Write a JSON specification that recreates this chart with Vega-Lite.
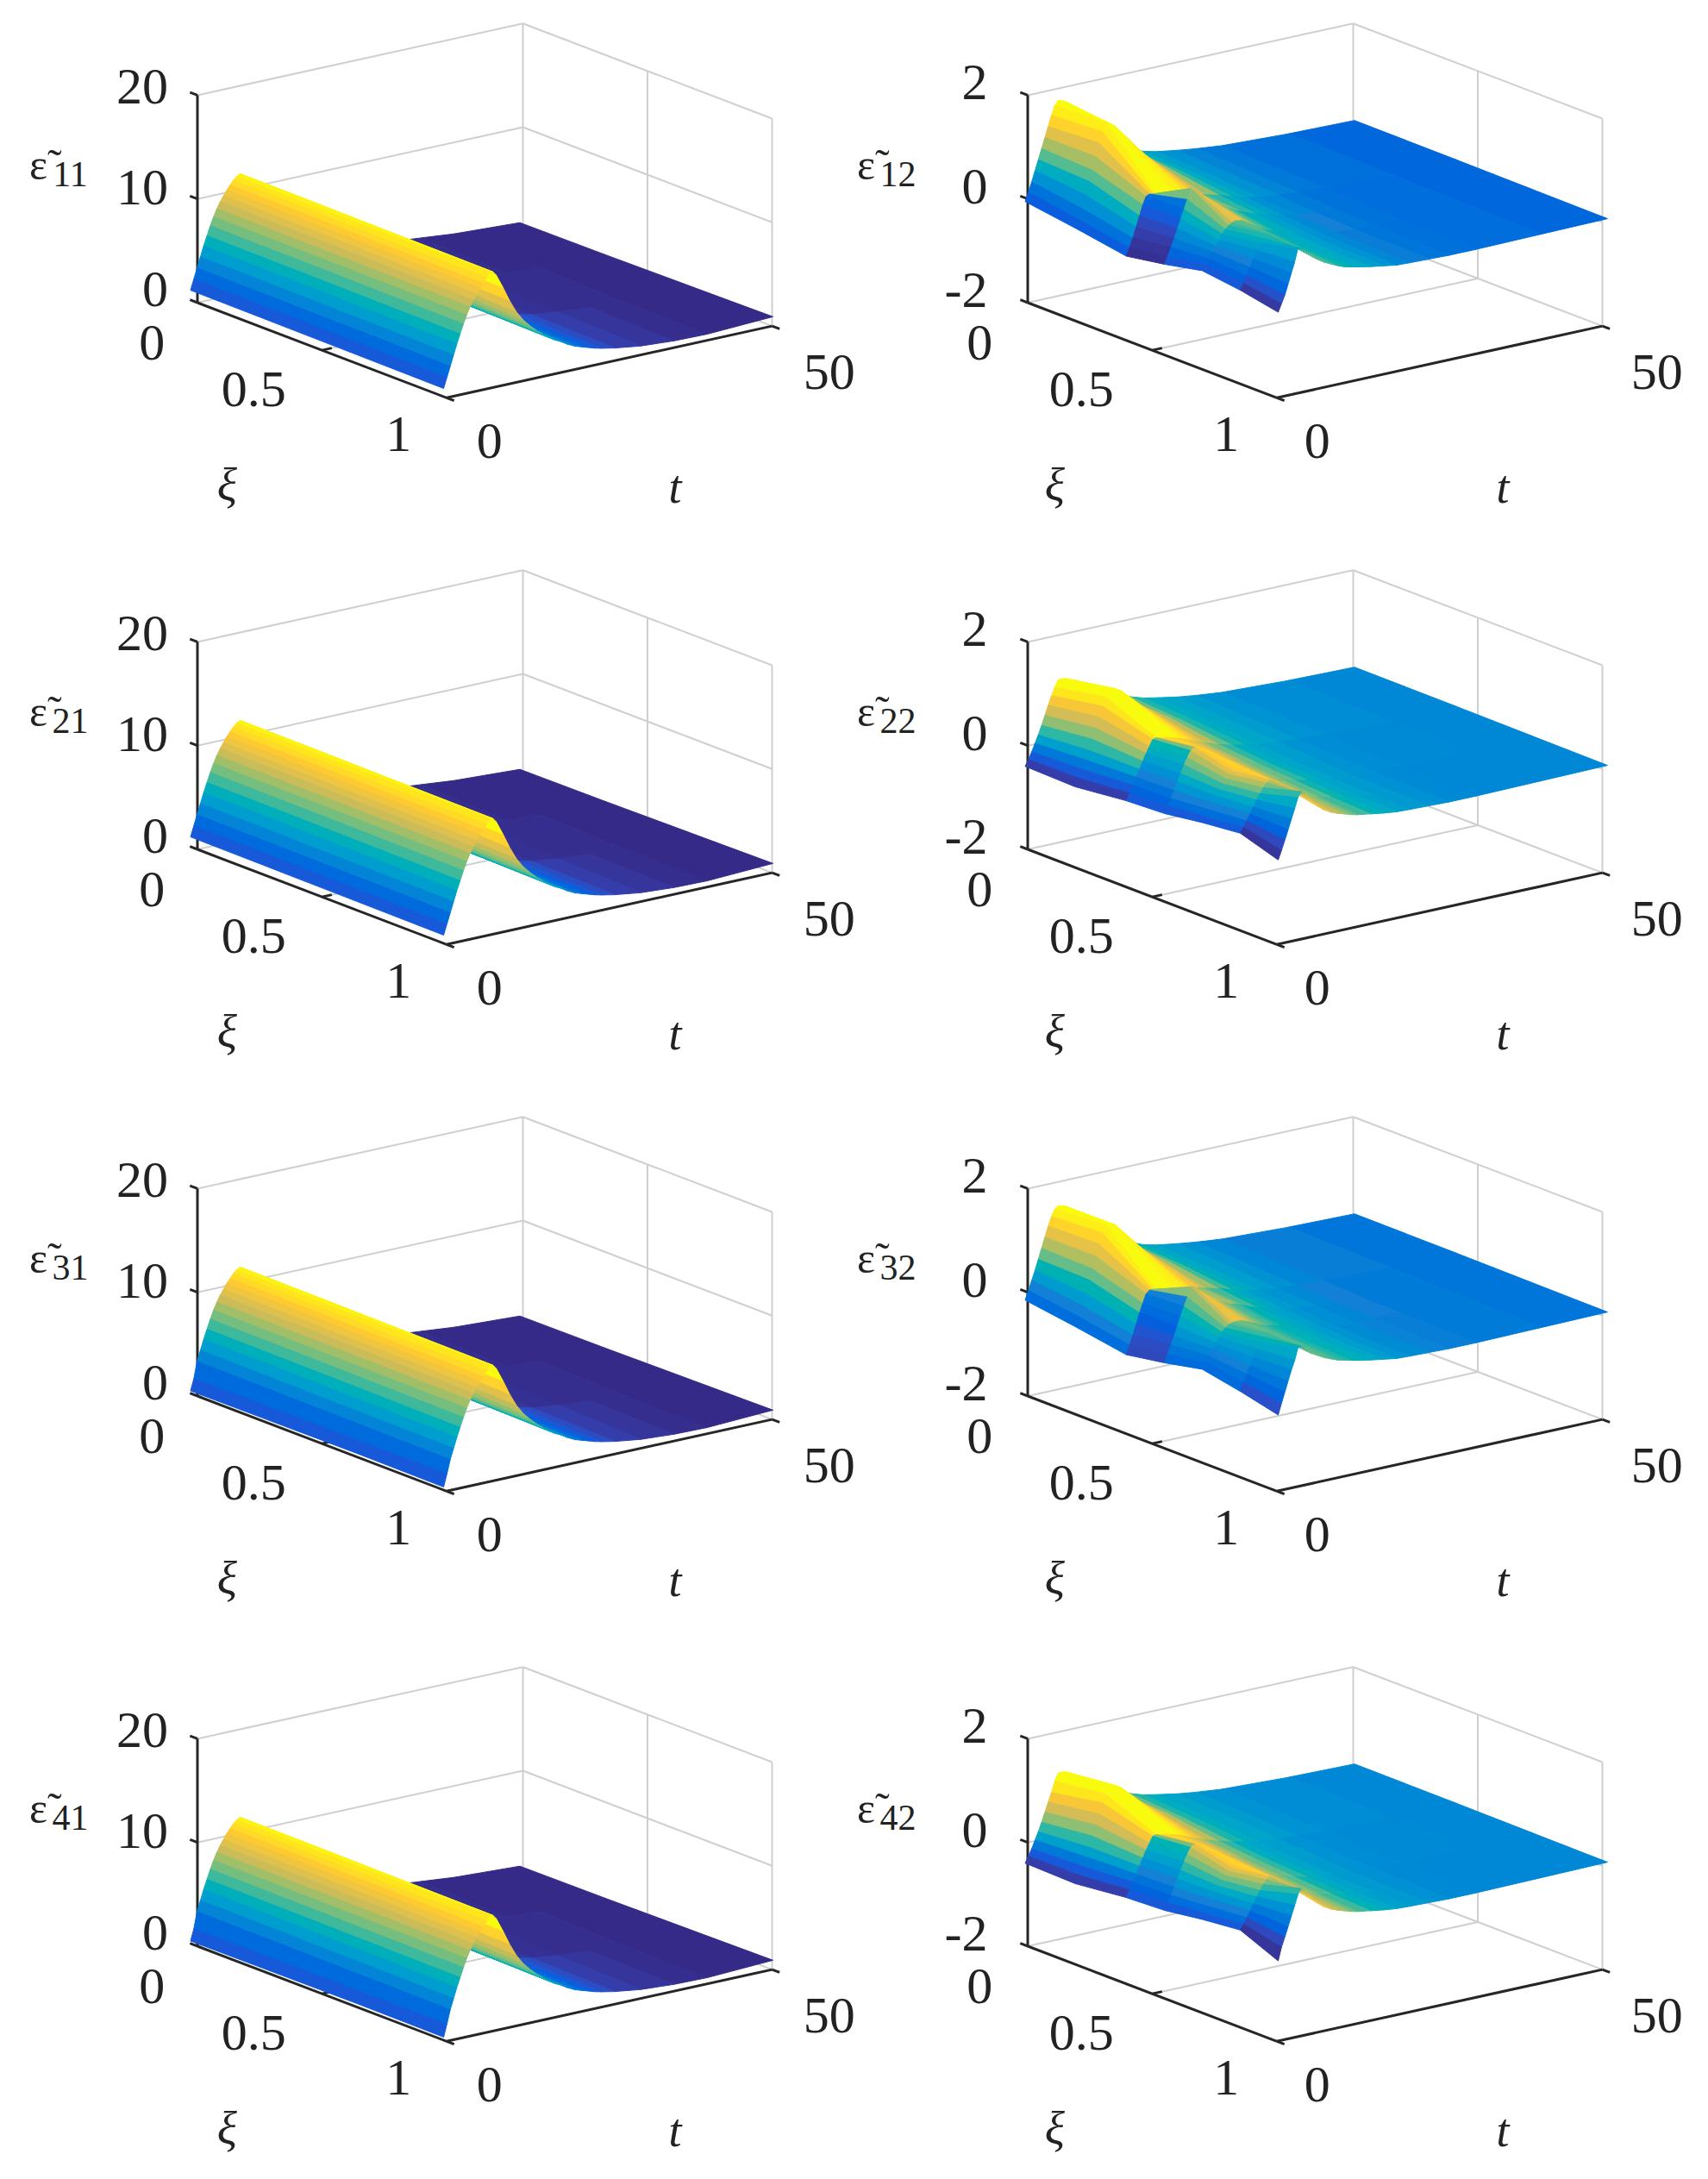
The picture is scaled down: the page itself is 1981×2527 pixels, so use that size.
{"$schema":"https://vega.github.io/schema/vega-lite/v6.json","width":1981,"height":2527,"padding":0,"autosize":{"type":"none"},"background":"white","config":{"view":{"stroke":null},"text":{"font":"Liberation Serif","color":"#222222"}},
"datasets":{"L":[
{"t":50,"xi":0,"z":0.8,"k":0},{"t":50,"xi":0.34,"z":0.8,"k":0},{"t":50,"xi":0.67,"z":0.85,"k":0},{"t":50,"xi":1,"z":0.9},
{"t":40,"xi":0,"z":1.1,"k":0},{"t":40,"xi":0.34,"z":0.9,"k":0},{"t":40,"xi":0.67,"z":0.7,"k":0},{"t":40,"xi":1,"z":0.6},
{"t":35,"xi":0,"z":1.4,"k":0},{"t":35,"xi":0.34,"z":1.1,"k":0.01},{"t":35,"xi":0.67,"z":0.85,"k":0.01},{"t":35,"xi":1,"z":0.65},
{"t":30,"xi":0,"z":1.7,"k":0.01},{"t":30,"xi":0.34,"z":1.4,"k":0.01},{"t":30,"xi":0.67,"z":1.1,"k":0.03},{"t":30,"xi":1,"z":0.85},
{"t":26,"xi":0,"z":2.1,"k":0.01},{"t":26,"xi":0.34,"z":1.7,"k":0.02},{"t":26,"xi":0.67,"z":1.4,"k":0.05},{"t":26,"xi":1,"z":1.2},
{"t":24,"xi":0,"z":2.4,"k":0.02},{"t":24,"xi":0.34,"z":2,"k":0.03},{"t":24,"xi":0.67,"z":1.7,"k":0.09},{"t":24,"xi":1,"z":1.45},
{"t":23,"xi":0,"z":2.5,"k":0.02},{"t":23,"xi":0.34,"z":2.1,"k":0.04},{"t":23,"xi":0.67,"z":1.8,"k":0.11},{"t":23,"xi":1,"z":1.6},
{"t":22,"xi":0,"z":2.6,"k":0.03},{"t":22,"xi":0.34,"z":2.2,"k":0.05},{"t":22,"xi":0.67,"z":2,"k":0.13},{"t":22,"xi":1,"z":1.8},
{"t":21,"xi":0,"z":2.8,"k":0.03},{"t":21,"xi":0.34,"z":2.4,"k":0.06},{"t":21,"xi":0.67,"z":2.2,"k":0.16},{"t":21,"xi":1,"z":2},
{"t":20,"xi":0,"z":3,"k":0.04},{"t":20,"xi":0.34,"z":2.6,"k":0.08},{"t":20,"xi":0.67,"z":2.4,"k":0.2},{"t":20,"xi":1,"z":2.2},
{"t":19,"xi":0,"z":3.2,"k":0.05},{"t":19,"xi":0.34,"z":2.9,"k":0.1},{"t":19,"xi":0.67,"z":2.7,"k":0.25},{"t":19,"xi":1,"z":2.5},
{"t":18,"xi":0,"z":3.5,"k":0.06},{"t":18,"xi":0.34,"z":3.2,"k":0.13},{"t":18,"xi":0.67,"z":3,"k":0.3},{"t":18,"xi":1,"z":2.9},
{"t":17,"xi":0,"z":3.9,"k":0.08},{"t":17,"xi":0.34,"z":3.6,"k":0.17},{"t":17,"xi":0.67,"z":3.4,"k":0.35},{"t":17,"xi":1,"z":3.2},
{"t":16,"xi":0,"z":4.3,"k":0.11},{"t":16,"xi":0.34,"z":4,"k":0.22},{"t":16,"xi":0.67,"z":3.8,"k":0.4},{"t":16,"xi":1,"z":3.6},
{"t":15,"xi":0,"z":4.8,"k":0.15},{"t":15,"xi":0.34,"z":4.5,"k":0.27},{"t":15,"xi":0.67,"z":4.3,"k":0.46},{"t":15,"xi":1,"z":4.1},
{"t":14,"xi":0,"z":5.3,"k":0.2},{"t":14,"xi":0.34,"z":5,"k":0.34},{"t":14,"xi":0.67,"z":4.8,"k":0.52},{"t":14,"xi":1,"z":4.6},
{"t":13,"xi":0,"z":6,"k":0.28},{"t":13,"xi":0.34,"z":5.7,"k":0.42},{"t":13,"xi":0.67,"z":5.4,"k":0.58},{"t":13,"xi":1,"z":5.2},
{"t":12,"xi":0,"z":6.8,"k":0.38},{"t":12,"xi":0.34,"z":6.5,"k":0.5},{"t":12,"xi":0.67,"z":6.2,"k":0.65},{"t":12,"xi":1,"z":5.9},
{"t":11,"xi":0,"z":7.7,"k":0.5},{"t":11,"xi":0.34,"z":7.4,"k":0.6},{"t":11,"xi":0.67,"z":7.1,"k":0.72},{"t":11,"xi":1,"z":6.8},
{"t":10,"xi":0,"z":8.8,"k":0.65},{"t":10,"xi":0.34,"z":8.5,"k":0.72},{"t":10,"xi":0.67,"z":8.2,"k":0.8},{"t":10,"xi":1,"z":8},
{"t":9,"xi":0,"z":10,"k":0.85},{"t":9,"xi":0.34,"z":9.8,"k":0.88},{"t":9,"xi":0.67,"z":9.6,"k":0.9},{"t":9,"xi":1,"z":9.4},
{"t":8,"xi":0,"z":11.2,"k":1},{"t":8,"xi":0.34,"z":11.1,"k":1},{"t":8,"xi":0.67,"z":10.95,"k":1},{"t":8,"xi":1,"z":10.7},
{"t":7.5,"xi":0,"z":11.4,"k":1},{"t":7.5,"xi":0.34,"z":11.3,"k":1},{"t":7.5,"xi":0.67,"z":11.2,"k":1},{"t":7.5,"xi":1,"z":11.1},
{"t":7,"xi":0,"z":11.2,"k":0.98},{"t":7,"xi":0.34,"z":11.1,"k":0.98},{"t":7,"xi":0.67,"z":11.1,"k":0.98},{"t":7,"xi":1,"z":11.2},
{"t":6.5,"xi":0,"z":10.9,"k":0.95},{"t":6.5,"xi":0.34,"z":10.8,"k":0.95},{"t":6.5,"xi":0.67,"z":10.7,"k":0.95},{"t":6.5,"xi":1,"z":10.7},
{"t":6,"xi":0,"z":10.5,"k":0.92},{"t":6,"xi":0.34,"z":10.4,"k":0.92},{"t":6,"xi":0.67,"z":10.3,"k":0.92},{"t":6,"xi":1,"z":10.2},
{"t":5.5,"xi":0,"z":10.1,"k":0.88},{"t":5.5,"xi":0.34,"z":10,"k":0.88},{"t":5.5,"xi":0.67,"z":9.9,"k":0.88},{"t":5.5,"xi":1,"z":9.8},
{"t":5,"xi":0,"z":9.6,"k":0.84},{"t":5,"xi":0.34,"z":9.5,"k":0.84},{"t":5,"xi":0.67,"z":9.4,"k":0.84},{"t":5,"xi":1,"z":9.3},
{"t":4.5,"xi":0,"z":9.1,"k":0.79},{"t":4.5,"xi":0.34,"z":9,"k":0.79},{"t":4.5,"xi":0.67,"z":8.9,"k":0.79},{"t":4.5,"xi":1,"z":8.8},
{"t":4,"xi":0,"z":8.5,"k":0.74},{"t":4,"xi":0.34,"z":8.4,"k":0.74},{"t":4,"xi":0.67,"z":8.3,"k":0.74},{"t":4,"xi":1,"z":8.2},
{"t":3.5,"xi":0,"z":7.8,"k":0.67},{"t":3.5,"xi":0.34,"z":7.7,"k":0.67},{"t":3.5,"xi":0.67,"z":7.6,"k":0.67},{"t":3.5,"xi":1,"z":7.5},
{"t":3,"xi":0,"z":7,"k":0.6},{"t":3,"xi":0.34,"z":6.9,"k":0.6},{"t":3,"xi":0.67,"z":6.8,"k":0.6},{"t":3,"xi":1,"z":6.7},
{"t":2.5,"xi":0,"z":6.1,"k":0.52},{"t":2.5,"xi":0.34,"z":6,"k":0.52},{"t":2.5,"xi":0.67,"z":5.9,"k":0.52},{"t":2.5,"xi":1,"z":5.8},
{"t":2,"xi":0,"z":5.2,"k":0.44},{"t":2,"xi":0.34,"z":5.1,"k":0.44},{"t":2,"xi":0.67,"z":5,"k":0.44},{"t":2,"xi":1,"z":4.9},
{"t":1.5,"xi":0,"z":4.2,"k":0.35},{"t":1.5,"xi":0.34,"z":4.1,"k":0.35},{"t":1.5,"xi":0.67,"z":4,"k":0.35},{"t":1.5,"xi":1,"z":3.9},
{"t":1,"xi":0,"z":3.2,"k":0.26},{"t":1,"xi":0.34,"z":3.1,"k":0.26},{"t":1,"xi":0.67,"z":3,"k":0.26},{"t":1,"xi":1,"z":2.9},
{"t":0.5,"xi":0,"z":2.2,"q":1.6,"k":0.17},{"t":0.5,"xi":0.34,"z":2.1,"q":1.6,"k":0.17},{"t":0.5,"xi":0.67,"z":2,"q":1.6,"k":0.17},{"t":0.5,"xi":1,"z":1.9,"q":1.6},
{"t":0,"xi":0,"z":1.2,"q":0.5,"k":0.12},{"t":0,"xi":0.34,"z":1.1,"q":0.5,"k":0.12},{"t":0,"xi":0.67,"z":1,"q":0.5,"k":0.12},{"t":0,"xi":1,"z":0.9,"q":0.4}
],"R":[
{"t":50,"xi":0,"a":0.13,"k":0.16,"m":0.27},{"t":50,"xi":0.2,"a":0.12,"k":0.16,"m":0.27},{"t":50,"xi":0.4,"a":0.11,"k":0.16,"m":0.27},{"t":50,"xi":0.55,"a":0.1,"k":0.16,"m":0.27},{"t":50,"xi":0.7,"a":0.09,"k":0.16,"m":0.27},{"t":50,"xi":0.85,"a":0.08,"k":0.16,"m":0.27},{"t":50,"xi":1,"a":0.07},
{"t":40,"xi":0,"a":0.15,"k":0.16,"m":0.27},{"t":40,"xi":0.2,"a":0.13,"k":0.16,"m":0.27},{"t":40,"xi":0.4,"a":0.11,"k":0.16,"m":0.27},{"t":40,"xi":0.55,"a":0.09,"k":0.16,"m":0.27},{"t":40,"xi":0.7,"a":0.08,"k":0.16,"m":0.27},{"t":40,"xi":0.85,"a":0.07,"k":0.16,"m":0.27},{"t":40,"xi":1,"a":0.05},
{"t":30,"xi":0,"a":0.2,"k":0.19,"m":0.29},{"t":30,"xi":0.2,"a":0.16,"k":0.19,"m":0.29},{"t":30,"xi":0.4,"a":0.12,"k":0.18,"m":0.28},{"t":30,"xi":0.55,"a":0.08,"k":0.18,"m":0.28},{"t":30,"xi":0.7,"a":0.06,"k":0.18,"m":0.27},{"t":30,"xi":0.85,"a":0.05,"k":0.18,"m":0.27},{"t":30,"xi":1,"a":0.03},
{"t":26,"xi":0,"a":0.25,"k":0.22,"m":0.31},{"t":26,"xi":0.2,"a":0.2,"k":0.22,"m":0.31},{"t":26,"xi":0.4,"a":0.14,"k":0.2,"m":0.29},{"t":26,"xi":0.55,"a":0.09,"k":0.2,"m":0.29},{"t":26,"xi":0.7,"a":0.06,"k":0.19,"m":0.28},{"t":26,"xi":0.85,"a":0.05,"k":0.19,"m":0.28},{"t":26,"xi":1,"a":0.03},
{"t":23,"xi":0,"a":0.3,"k":0.26,"m":0.34},{"t":23,"xi":0.2,"a":0.24,"k":0.26,"m":0.34},{"t":23,"xi":0.4,"a":0.17,"k":0.23,"m":0.31},{"t":23,"xi":0.55,"a":0.11,"k":0.22,"m":0.31},{"t":23,"xi":0.7,"a":0.07,"k":0.21,"m":0.3},{"t":23,"xi":0.85,"a":0.05,"k":0.21,"m":0.3},{"t":23,"xi":1,"a":0.04},
{"t":20,"xi":0,"a":0.36,"b":0.37,"k":0.31,"m":0.38},{"t":20,"xi":0.2,"a":0.3,"k":0.31,"m":0.38},{"t":20,"xi":0.4,"a":0.22,"b":0.2,"k":0.27,"m":0.35},{"t":20,"xi":0.55,"a":0.15,"b":0.14,"k":0.25,"m":0.34},{"t":20,"xi":0.7,"a":0.09,"k":0.24,"m":0.33},{"t":20,"xi":0.85,"a":0.06,"k":0.24,"m":0.33},{"t":20,"xi":1,"a":0.05},
{"t":18,"xi":0,"a":0.42,"k":0.36,"m":0.42},{"t":18,"xi":0.2,"a":0.36,"b":0.35,"k":0.36,"m":0.42},{"t":18,"xi":0.4,"a":0.27,"b":0.25,"k":0.3,"m":0.38},{"t":18,"xi":0.55,"a":0.19,"b":0.17,"k":0.28,"m":0.38},{"t":18,"xi":0.7,"a":0.12,"k":0.27,"m":0.37},{"t":18,"xi":0.85,"a":0.08,"k":0.27,"m":0.36},{"t":18,"xi":1,"a":0.06},
{"t":16,"xi":0,"a":0.52,"b":0.5,"k":0.42,"m":0.48},{"t":16,"xi":0.2,"a":0.46,"b":0.42,"k":0.42,"m":0.48},{"t":16,"xi":0.4,"a":0.34,"b":0.3,"k":0.36,"m":0.42},{"t":16,"xi":0.55,"a":0.25,"b":0.22,"k":0.32,"m":0.43},{"t":16,"xi":0.7,"a":0.17,"k":0.31,"m":0.41},{"t":16,"xi":0.85,"a":0.12,"k":0.31,"m":0.4},{"t":16,"xi":1,"a":0.1,"b":0.09},
{"t":14,"xi":0,"a":0.66,"b":0.6,"k":0.5,"m":0.58},{"t":14,"xi":0.2,"a":0.58,"b":0.53,"k":0.5,"m":0.58},{"t":14,"xi":0.4,"a":0.42,"b":0.37,"k":0.42,"m":0.5},{"t":14,"xi":0.55,"a":0.33,"b":0.29,"k":0.36,"m":0.5},{"t":14,"xi":0.7,"a":0.23,"k":0.35,"m":0.47},{"t":14,"xi":0.85,"a":0.16,"b":0.17,"k":0.35,"m":0.45},{"t":14,"xi":1,"a":0.14,"b":0.13},
{"t":12,"xi":0,"a":0.85,"b":0.7,"c":0.8,"k":0.65,"m":0.72},{"t":12,"xi":0.2,"a":0.76,"b":0.67,"c":0.72,"k":0.65,"m":0.72},{"t":12,"xi":0.4,"a":0.48,"b":0.45,"k":0.5,"m":0.6},{"t":12,"xi":0.55,"a":0.42,"b":0.37,"k":0.42,"m":0.58},{"t":12,"xi":0.7,"a":0.3,"k":0.4,"m":0.55},{"t":12,"xi":0.85,"a":0.22,"b":0.23,"k":0.4,"m":0.52},{"t":12,"xi":1,"a":0.19,"b":0.17},
{"t":11,"xi":0,"a":0.97,"b":0.76,"c":0.9,"k":0.75,"m":0.8},{"t":11,"xi":0.2,"a":0.87,"b":0.76,"c":0.82,"k":0.75,"m":0.8},{"t":11,"xi":0.4,"a":0.52,"b":0.5,"k":0.57,"m":0.68},{"t":11,"xi":0.55,"a":0.48,"b":0.42,"k":0.45,"m":0.64},{"t":11,"xi":0.7,"a":0.34,"b":0.34,"k":0.42,"m":0.62},{"t":11,"xi":0.85,"a":0.26,"b":0.27,"k":0.42,"m":0.58},{"t":11,"xi":1,"a":0.22,"b":0.2},
{"t":10,"xi":0,"a":1.1,"b":0.84,"c":1.02,"k":0.85,"m":0.87},{"t":10,"xi":0.2,"a":1,"b":0.86,"c":0.94,"k":0.85,"m":0.87},{"t":10,"xi":0.4,"a":0.56,"b":0.55,"c":0.52,"k":0.65,"m":0.75},{"t":10,"xi":0.55,"a":0.55,"b":0.48,"c":0.5,"k":0.5,"m":0.7},{"t":10,"xi":0.7,"a":0.4,"b":0.4,"c":0.36,"k":0.44,"m":0.7},{"t":10,"xi":0.85,"a":0.3,"b":0.32,"c":0.28,"k":0.45,"m":0.65},{"t":10,"xi":1,"a":0.25,"b":0.24},
{"t":9,"xi":0,"a":1.28,"b":0.92,"c":1.17,"k":0.92,"m":0.93},{"t":9,"xi":0.2,"a":1.15,"b":0.98,"c":1.08,"k":0.92,"m":0.93},{"t":9,"xi":0.4,"a":0.6,"b":0.6,"c":0.56,"k":0.72,"m":0.8},{"t":9,"xi":0.55,"a":0.62,"b":0.54,"c":0.57,"k":0.55,"m":0.75},{"t":9,"xi":0.7,"a":0.46,"b":0.47,"c":0.4,"k":0.47,"m":0.75},{"t":9,"xi":0.85,"a":0.37,"b":0.38,"c":0.34,"k":0.47,"m":0.7},{"t":9,"xi":1,"a":0.3,"b":0.28,"c":0.28},
{"t":8,"xi":0,"a":1.45,"b":1,"c":1.3,"k":0.97,"m":0.97},{"t":8,"xi":0.2,"a":1.3,"b":1.1,"c":1.22,"k":0.97,"m":0.97},{"t":8,"xi":0.4,"a":0.62,"b":0.65,"c":0.58,"k":0.8,"m":0.84},{"t":8,"xi":0.55,"a":0.7,"b":0.62,"c":0.64,"k":0.62,"m":0.8},{"t":8,"xi":0.7,"a":0.54,"b":0.55,"c":0.46,"k":0.5,"m":0.8},{"t":8,"xi":0.85,"a":0.44,"b":0.46,"c":0.4,"k":0.5,"m":0.75},{"t":8,"xi":1,"a":0.36,"b":0.33,"c":0.33},
{"t":7,"xi":0,"a":1.6,"b":1.08,"c":1.42,"k":0.98,"m":1},{"t":7,"xi":0.2,"a":1.45,"b":1.22,"c":1.36,"k":0.98,"m":1},{"t":7,"xi":0.4,"a":0.64,"b":0.69,"c":0.6,"k":0.85,"m":0.88},{"t":7,"xi":0.55,"a":0.8,"b":0.7,"c":0.72,"k":0.7,"m":0.84},{"t":7,"xi":0.7,"a":0.62,"b":0.63,"c":0.52,"k":0.52,"m":0.84},{"t":7,"xi":0.85,"a":0.52,"b":0.56,"c":0.45,"k":0.52,"m":0.8},{"t":7,"xi":1,"a":0.42,"b":0.4,"c":0.38},
{"t":6,"xi":0,"a":1.72,"b":1.13,"c":1.5,"d":1.2,"k":1,"m":1},{"t":6,"xi":0.2,"a":1.6,"b":1.3,"c":1.5,"k":1,"m":1},{"t":6,"xi":0.4,"a":0.66,"b":0.72,"c":0.62,"k":0.9,"m":0.92},{"t":6,"xi":0.55,"a":0.9,"b":0.78,"c":0.82,"k":0.8,"m":0.88},{"t":6,"xi":0.7,"a":0.7,"b":0.7,"c":0.57,"k":0.55,"m":0.88},{"t":6,"xi":0.85,"a":0.62,"b":0.66,"c":0.52,"k":0.55,"m":0.85},{"t":6,"xi":1,"a":0.5,"b":0.5,"c":0.45},
{"t":5,"xi":0,"a":1.76,"b":1.13,"c":1.53,"d":1.2,"k":1,"m":1},{"t":5,"xi":0.2,"a":1.7,"b":1.3,"c":1.57,"k":1,"m":1},{"t":5,"xi":0.4,"a":0.68,"b":0.74,"c":0.64,"k":0.9,"m":0.9},{"t":5,"xi":0.55,"a":1,"b":0.84,"c":0.92,"k":0.82,"m":0.9},{"t":5,"xi":0.7,"a":0.72,"b":0.7,"c":0.58,"k":0.56,"m":0.9},{"t":5,"xi":0.85,"a":0.72,"b":0.74,"c":0.6,"k":0.55,"m":0.85},{"t":5,"xi":1,"a":0.6,"b":0.64,"c":0.52},
{"t":4.5,"xi":0,"a":1.68,"b":1,"c":1.48,"d":1.06,"k":1,"m":1},{"t":4.5,"xi":0.2,"a":1.72,"b":1.18,"c":1.55,"k":1,"m":1},{"t":4.5,"xi":0.4,"a":0.7,"b":0.76,"c":0.66,"k":0.85,"m":0.8},{"t":4.5,"xi":0.55,"a":1.08,"b":0.85,"c":1,"k":0.8,"m":0.87},{"t":4.5,"xi":0.7,"a":0.7,"b":0.67,"c":0.57,"k":0.55,"m":0.87},{"t":4.5,"xi":0.85,"a":0.76,"b":0.77,"c":0.65,"k":0.55,"m":0.8},{"t":4.5,"xi":1,"a":0.66,"b":0.72,"c":0.58},
{"t":4,"xi":0,"a":1.5,"b":0.85,"c":1.35,"k":0.97,"m":0.95},{"t":4,"xi":0.2,"a":1.55,"b":1.02,"c":1.4,"k":0.97,"m":0.95},{"t":4,"xi":0.4,"a":0.72,"b":0.74,"c":0.68,"k":0.8,"m":0.6},{"t":4,"xi":0.55,"a":1.1,"b":0.8,"c":1,"k":0.72,"m":0.8},{"t":4,"xi":0.7,"a":0.66,"b":0.62,"c":0.55,"k":0.52,"m":0.8},{"t":4,"xi":0.85,"a":0.77,"b":0.73,"c":0.66,"k":0.52,"m":0.7},{"t":4,"xi":1,"a":0.72,"b":0.8,"c":0.65},
{"t":3.5,"xi":0,"a":1.3,"b":0.68,"c":1.18,"k":0.9,"m":0.86},{"t":3.5,"xi":0.2,"a":1.35,"b":0.82,"c":1.2,"k":0.9,"m":0.86},{"t":3.5,"xi":0.4,"a":0.73,"b":0.62,"c":0.68,"k":0.6,"m":0.46},{"t":3.5,"xi":0.55,"a":0.9,"b":0.68,"c":0.82,"k":0.62,"m":0.7},{"t":3.5,"xi":0.7,"a":0.6,"b":0.55,"c":0.5,"k":0.48,"m":0.7},{"t":3.5,"xi":0.85,"a":0.7,"b":0.65,"c":0.6,"k":0.48,"m":0.6},{"t":3.5,"xi":1,"a":0.78,"b":0.85,"c":0.7},
{"t":3,"xi":0,"a":1.1,"b":0.5,"c":0.98,"k":0.8,"m":0.76},{"t":3,"xi":0.2,"a":1.1,"b":0.62,"c":0.98,"k":0.8,"m":0.76},{"t":3,"xi":0.4,"a":0.7,"b":0.5,"c":0.62,"k":0.2,"m":0.42},{"t":3,"xi":0.55,"a":0.72,"b":0.55,"c":0.65,"k":0.52,"m":0.6},{"t":3,"xi":0.7,"a":0.52,"b":0.47,"c":0.43,"k":0.42,"m":0.6},{"t":3,"xi":0.85,"a":0.62,"b":0.55,"c":0.52,"k":0.42,"m":0.5},{"t":3,"xi":1,"a":0.8,"b":0.75,"c":0.68},
{"t":2.5,"xi":0,"a":0.9,"b":0.32,"c":0.78,"k":0.68,"m":0.64},{"t":2.5,"xi":0.2,"a":0.85,"b":0.42,"c":0.75,"k":0.68,"m":0.64},{"t":2.5,"xi":0.4,"a":0.55,"b":0.36,"c":0.45,"k":0.16,"m":0.36},{"t":2.5,"xi":0.55,"a":0.55,"b":0.4,"c":0.48,"k":0.43,"m":0.5},{"t":2.5,"xi":0.7,"a":0.42,"b":0.37,"c":0.35,"k":0.36,"m":0.5},{"t":2.5,"xi":0.85,"a":0.5,"b":0.44,"c":0.4,"k":0.35,"m":0.4},{"t":2.5,"xi":1,"a":0.55,"b":0.55,"c":0.45},
{"t":2,"xi":0,"a":0.7,"b":0.15,"c":0.58,"k":0.55,"m":0.5},{"t":2,"xi":0.2,"a":0.65,"b":0.22,"c":0.55,"k":0.55,"m":0.5},{"t":2,"xi":0.4,"a":0.35,"b":0.22,"c":0.28,"k":0.12,"m":0.3},{"t":2,"xi":0.55,"a":0.38,"b":0.25,"c":0.3,"k":0.35,"m":0.4},{"t":2,"xi":0.7,"a":0.32,"b":0.26,"c":0.25,"k":0.3,"m":0.4},{"t":2,"xi":0.85,"a":0.35,"b":0.32,"c":0.25,"k":0.28,"m":0.3},{"t":2,"xi":1,"a":0.35,"b":0.36,"c":0.28},
{"t":1.5,"xi":0,"a":0.5,"b":0,"c":0.38,"k":0.42,"m":0.36},{"t":1.5,"xi":0.2,"a":0.4,"b":0.05,"c":0.3,"k":0.42,"m":0.36},{"t":1.5,"xi":0.4,"a":0.15,"b":0.08,"c":0.08,"k":0.08,"m":0.25},{"t":1.5,"xi":0.55,"a":0.2,"b":0.1,"c":0.12,"k":0.28,"m":0.32},{"t":1.5,"xi":0.7,"a":0.22,"b":0.14,"c":0.15,"k":0.25,"m":0.32},{"t":1.5,"xi":0.85,"a":0.2,"b":0.2,"c":0.1,"k":0.22,"m":0.22},{"t":1.5,"xi":1,"a":0.15,"b":0.17,"c":0.08},
{"t":1,"xi":0,"a":0.3,"b":-0.15,"c":0.2,"k":0.3,"m":0.22},{"t":1,"xi":0.2,"a":0.15,"b":-0.12,"c":0.08,"k":0.3,"m":0.22},{"t":1,"xi":0.4,"a":-0.05,"b":-0.06,"c":-0.12,"k":0.05,"m":0.2},{"t":1,"xi":0.55,"a":0.05,"b":-0.04,"c":-0.03,"k":0.22,"m":0.25},{"t":1,"xi":0.7,"a":0.1,"b":0.02,"c":0.03,"k":0.2,"m":0.25},{"t":1,"xi":0.85,"a":0.05,"b":0.08,"c":-0.05,"k":0.16,"m":0.15},{"t":1,"xi":1,"a":-0.05,"b":-0.02,"c":-0.12},
{"t":0.5,"xi":0,"a":0.12,"b":-0.28,"c":0.02,"k":0.2,"m":0.12},{"t":0.5,"xi":0.2,"a":-0.05,"b":-0.28,"c":-0.12,"k":0.2,"m":0.12},{"t":0.5,"xi":0.4,"a":-0.22,"b":-0.2,"c":-0.3,"k":0.03,"m":0.15},{"t":0.5,"xi":0.55,"a":-0.12,"b":-0.17,"c":-0.2,"k":0.16,"m":0.18},{"t":0.5,"xi":0.7,"a":0,"b":-0.1,"c":-0.08,"k":0.15,"m":0.18},{"t":0.5,"xi":0.85,"a":-0.08,"b":-0.03,"c":-0.2,"k":0.1,"m":0.08},{"t":0.5,"xi":1,"a":-0.2,"b":-0.2,"c":-0.32},
{"t":0,"xi":0,"a":-0.05,"b":-0.4,"c":-0.15,"k":0.13,"m":0.05},{"t":0,"xi":0.2,"a":-0.2,"b":-0.43,"c":-0.3,"k":0.13,"m":0.05},{"t":0,"xi":0.4,"a":-0.37,"b":-0.33,"c":-0.47,"k":0.02,"m":0.12},{"t":0,"xi":0.55,"a":-0.25,"b":-0.3,"c":-0.35,"k":0.12,"m":0.12},{"t":0,"xi":0.7,"a":-0.1,"b":-0.2,"c":-0.2,"k":0.12,"m":0.12},{"t":0,"xi":0.85,"a":-0.2,"b":-0.13,"c":-0.35,"k":0.04,"m":0.03},{"t":0,"xi":1,"a":-0.35,"b":-0.37,"c":-0.53,"d":-0.45}
],"F":[
{"kind":"g","p":"all","xi":0,"t":0,"h":1,"xi2":0,"t2":50,"h2":1},{"kind":"g","p":"all","xi":0,"t":50,"h":1,"xi2":1,"t2":50,"h2":1},
{"kind":"g","p":"all","xi":0,"t":0,"h":0.5,"xi2":0,"t2":50,"h2":0.5},{"kind":"g","p":"all","xi":0,"t":50,"h":0.5,"xi2":1,"t2":50,"h2":0.5},
{"kind":"g","p":"all","xi":0,"t":0,"h":0,"xi2":0,"t2":50,"h2":0},{"kind":"g","p":"all","xi":0,"t":50,"h":0,"xi2":1,"t2":50,"h2":0},
{"kind":"g","p":"all","xi":0,"t":50,"h":0,"xi2":0,"t2":50,"h2":1},{"kind":"g","p":"all","xi":0.5,"t":50,"h":0,"xi2":0.5,"t2":50,"h2":1},{"kind":"g","p":"all","xi":1,"t":50,"h":0,"xi2":1,"t2":50,"h2":1},
{"kind":"g","p":"all","xi":0.5,"t":0,"h":0,"xi2":0.5,"t2":50,"h2":0},
{"kind":"a","p":"all","xi":0,"t":0,"h":0,"xi2":0,"t2":0,"h2":1},{"kind":"a","p":"all","xi":0,"t":0,"h":0,"xi2":1,"t2":0,"h2":0},{"kind":"a","p":"all","xi":1,"t":0,"h":0,"xi2":1,"t2":50,"h2":0},
{"kind":"a","p":"all","xi":0,"t":0,"h":1,"xi2":-0.03,"t2":0,"h2":1},{"kind":"a","p":"all","xi":0,"t":0,"h":0.5,"xi2":-0.03,"t2":0,"h2":0.5},{"kind":"a","p":"all","xi":0,"t":0,"h":0,"xi2":-0.03,"t2":0,"h2":0},
{"kind":"a","p":"all","xi":0.5,"t":0,"h":0,"xi2":0.5,"t2":1.5,"h2":0},{"kind":"a","p":"all","xi":1,"t":50,"h":0,"xi2":1.03,"t2":50,"h2":0},{"kind":"a","p":"all","xi":1,"t":0,"h":0,"xi2":1.03,"t2":0,"h2":0},
{"kind":"c","p":"all","txt":"0","xi":0,"t":-6.6,"h":-0.154},{"kind":"c","p":"all","txt":"0.5","xi":0.5,"t":-10.1,"h":-0.125},{"kind":"c","p":"all","txt":"1","xi":1,"t":-7,"h":-0.133},
{"kind":"c","p":"all","txt":"0","xi":1,"t":7,"h":-0.263},{"kind":"c","p":"all","txt":"50","xi":1.24,"t":50,"h":-0.118},
{"kind":"r","p":"L","txt":"20","xi":-0.107,"t":0,"h":0.985},{"kind":"r","p":"L","txt":"10","xi":-0.107,"t":0,"h":0.5},{"kind":"r","p":"L","txt":"0","xi":-0.107,"t":0,"h":0.01},
{"kind":"r","p":"R","txt":"2","xi":-0.14,"t":0,"h":0.99},{"kind":"r","p":"R","txt":"0","xi":-0.14,"t":0,"h":0.49},{"kind":"r","p":"R","txt":"-2","xi":-0.14,"t":0,"h":-0.01},
{"kind":"i","p":"all","txt":"ξ","xi":0.5,"t":-14.2,"h":-0.56},{"kind":"i","p":"all","txt":"t","xi":1,"t":35.5,"h":-0.685},
{"kind":"e","p":"all","txt":"ε̃","xi":-0.5,"t":-4.9,"h":0.46},
{"kind":"s","p":0,"txt":"11","xi":-0.5,"t":0,"h":0.387},{"kind":"s","p":1,"txt":"12","xi":-0.5,"t":0,"h":0.387},{"kind":"s","p":2,"txt":"21","xi":-0.5,"t":0,"h":0.387},{"kind":"s","p":3,"txt":"22","xi":-0.5,"t":0,"h":0.387},
{"kind":"s","p":4,"txt":"31","xi":-0.5,"t":0,"h":0.387},{"kind":"s","p":5,"txt":"32","xi":-0.5,"t":0,"h":0.387},{"kind":"s","p":6,"txt":"41","xi":-0.5,"t":0,"h":0.387},{"kind":"s","p":7,"txt":"42","xi":-0.5,"t":0,"h":0.387}
]},
"data":{"name":"F"},
"transform":[
{"calculate":"datum.p=='all'?[0,1,2,3,4,5,6,7]:datum.p=='L'?[0,2,4,6]:datum.p=='R'?[1,3,5,7]:[datum.p]","as":"pp"},
{"flatten":["pp"]},
{"calculate":"(datum.pp%2?1192:229)+(isValid(datum.txt)?(datum.pp%2?-6:-3):0)+289*datum.xi+7.55*datum.t","as":"px"},
{"calculate":"[351,985,1619,2257][floor(datum.pp/2)]+110.3*datum.xi-1.664*datum.t-240.6*datum.h","as":"py"},
{"calculate":"(datum.pp%2?1192:229)+289*datum.xi2+7.55*datum.t2","as":"px2"},
{"calculate":"[351,985,1619,2257][floor(datum.pp/2)]+110.3*datum.xi2-1.664*datum.t2-240.6*datum.h2","as":"py2"}
],
"encoding":{"x":{"field":"px","type":"quantitative","scale":{"domain":[0,1981]},"axis":null},"y":{"field":"py","type":"quantitative","scale":{"domain":[2527,0]},"axis":null}},
"layer":[
{"transform":[{"filter":"datum.kind=='g'"}],"mark":{"type":"rule","stroke":"#cfcfcf","strokeWidth":2},"encoding":{"x2":{"field":"px2"},"y2":{"field":"py2"}}},
{"transform":[{"filter":"datum.kind=='a'"}],"mark":{"type":"rule","stroke":"#262626","strokeWidth":3},"encoding":{"x2":{"field":"px2"},"y2":{"field":"py2"}}},
{"data":{"name":"L"},"transform":[
{"calculate":"[0,2,4,6]","as":"p"},
{"calculate":"[datum.z,datum.z,isValid(datum.q)?datum.q:datum.z,isValid(datum.q)?datum.q:datum.z]","as":"zz"},
{"flatten":["p","zz"]},
{"calculate":"(datum.p%2?1189:221)+293.5*datum.xi+7.64*datum.t","as":"px"},
{"calculate":"[351,985,1619,2257][floor(datum.p/2)]+110.3*datum.xi-1.664*datum.t-240.6*datum.zz/20","as":"py"},
{"window":[{"op":"lead","field":"px","as":"bx"},{"op":"lead","field":"py","as":"by"}],"groupby":["p","t"],"sort":[{"field":"xi"}]},
{"window":[{"op":"lead","field":"px","as":"cx"},{"op":"lead","field":"py","as":"cy"},{"op":"lead","field":"bx","as":"dx"},{"op":"lead","field":"by","as":"dy"}],"groupby":["p","xi"],"sort":[{"field":"t"}]},
{"filter":"isValid(datum.bx)&&isValid(datum.cx)"},
{"calculate":"'M0,0L'+round(10*(datum.bx-datum.px))/10+','+round(10*(datum.by-datum.py))/10+'L'+round(10*(datum.dx-datum.px))/10+','+round(10*(datum.dy-datum.py))/10+'L'+round(10*(datum.cx-datum.px))/10+','+round(10*(datum.cy-datum.py))/10+'Z'","as":"cell"}
],"mark":{"type":"point","filled":true,"opacity":1,"strokeWidth":1,"size":4},"encoding":{"shape":{"field":"cell","type":"nominal","scale":null,"legend":null},"color":{"field":"k","type":"quantitative","legend":null,"scale":{"domain":[0,1],"range":["#352a87","#0f5cdd","#1481d6","#06a4ca","#2eb7a4","#87bf77","#d1bb59","#fec832","#f9fb0e"]}},"stroke":{"field":"k","type":"quantitative","legend":null,"scale":{"domain":[0,1],"range":["#352a87","#0f5cdd","#1481d6","#06a4ca","#2eb7a4","#87bf77","#d1bb59","#fec832","#f9fb0e"]}}}},
{"data":{"name":"R"},"transform":[
{"calculate":"[1,3,5,7]","as":"p"},
{"calculate":"isValid(datum.b)?datum.b:datum.a","as":"bb"},
{"calculate":"[datum.a,datum.bb,isValid(datum.c)?datum.c:datum.a,isValid(datum.d)?datum.d:datum.bb]","as":"zz"},
{"calculate":"[datum.k,datum.m,datum.k+0.06*(1-datum.k),datum.m]","as":"kk"},
{"flatten":["p","zz","kk"]},
{"calculate":"(datum.p%2?1189:221)+293.5*datum.xi+7.64*datum.t","as":"px"},
{"calculate":"[351,985,1619,2257][floor(datum.p/2)]+110.3*datum.xi-1.664*datum.t-240.6*(datum.zz+2)/4","as":"py"},
{"window":[{"op":"lead","field":"px","as":"bx"},{"op":"lead","field":"py","as":"by"}],"groupby":["p","t"],"sort":[{"field":"xi"}]},
{"window":[{"op":"lead","field":"px","as":"cx"},{"op":"lead","field":"py","as":"cy"},{"op":"lead","field":"bx","as":"dx"},{"op":"lead","field":"by","as":"dy"}],"groupby":["p","xi"],"sort":[{"field":"t"}]},
{"filter":"isValid(datum.bx)&&isValid(datum.cx)"},
{"calculate":"'M0,0L'+round(10*(datum.bx-datum.px))/10+','+round(10*(datum.by-datum.py))/10+'L'+round(10*(datum.dx-datum.px))/10+','+round(10*(datum.dy-datum.py))/10+'L'+round(10*(datum.cx-datum.px))/10+','+round(10*(datum.cy-datum.py))/10+'Z'","as":"cell"}
],"mark":{"type":"point","filled":true,"opacity":1,"strokeWidth":1,"size":4},"encoding":{"shape":{"field":"cell","type":"nominal","scale":null,"legend":null},"color":{"field":"kk","type":"quantitative","legend":null,"scale":{"domain":[0,1],"range":["#352a87","#0f5cdd","#1481d6","#06a4ca","#2eb7a4","#87bf77","#d1bb59","#fec832","#f9fb0e"]}},"stroke":{"field":"kk","type":"quantitative","legend":null,"scale":{"domain":[0,1],"range":["#352a87","#0f5cdd","#1481d6","#06a4ca","#2eb7a4","#87bf77","#d1bb59","#fec832","#f9fb0e"]}}}},
{"transform":[{"filter":"datum.kind=='c'"}],"mark":{"type":"text","fontSize":60,"align":"center","baseline":"middle"},"encoding":{"text":{"field":"txt"}}},
{"transform":[{"filter":"datum.kind=='r'"}],"mark":{"type":"text","fontSize":60,"align":"right","baseline":"middle"},"encoding":{"text":{"field":"txt"}}},
{"transform":[{"filter":"datum.kind=='i'"}],"mark":{"type":"text","fontSize":54,"fontStyle":"italic","align":"center","baseline":"middle"},"encoding":{"text":{"field":"txt"}}},
{"transform":[{"filter":"datum.kind=='e'"}],"mark":{"type":"text","fontSize":50,"align":"center","baseline":"middle"},"encoding":{"text":{"field":"txt"}}},
{"transform":[{"filter":"datum.kind=='s'"}],"mark":{"type":"text","fontSize":42,"align":"center","baseline":"middle"},"encoding":{"text":{"field":"txt"}}}
]}
